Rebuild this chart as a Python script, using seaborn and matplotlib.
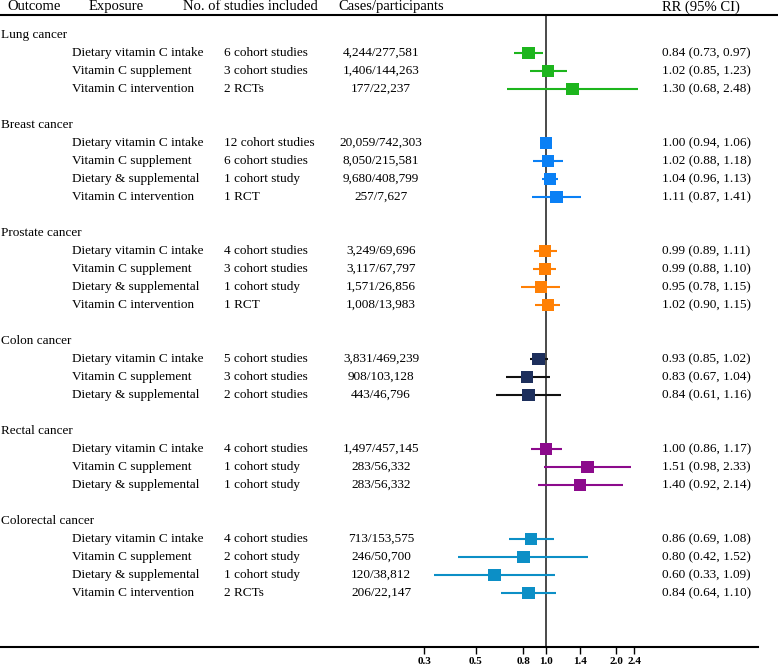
import numpy as np
import pandas as pd
import matplotlib
matplotlib.use("Agg")
import matplotlib.pyplot as plt
import matplotlib.transforms as mtransforms
from matplotlib.ticker import NullLocator
import seaborn as sns

# data
outcomes = ["Lung cancer", "Breast cancer", "Prostate cancer",
            "Colon cancer", "Rectal cancer", "Colorectal cancer"]

outcome = (["Lung cancer"] * 3 + ["Breast cancer"] * 4 + ["Prostate cancer"] * 4
           + ["Colon cancer"] * 3 + ["Rectal cancer"] * 3 + ["Colorectal cancer"] * 4)

exposure = ["Dietary vitamin C intake", "Vitamin C supplement", "Vitamin C intervention",
            "Dietary vitamin C intake", "Vitamin C supplement", "Dietary & supplemental", "Vitamin C intervention",
            "Dietary vitamin C intake", "Vitamin C supplement", "Dietary & supplemental", "Vitamin C intervention",
            "Dietary vitamin C intake", "Vitamin C supplement", "Dietary & supplemental",
            "Dietary vitamin C intake", "Vitamin C supplement", "Dietary & supplemental",
            "Dietary vitamin C intake", "Vitamin C supplement", "Dietary & supplemental", "Vitamin C intervention"]

studies = ["6 cohort studies", "3 cohort studies", "2 RCTs",
           "12 cohort studies", "6 cohort studies", "1 cohort study", "1 RCT",
           "4 cohort studies", "3 cohort studies", "1 cohort study", "1 RCT",
           "5 cohort studies", "3 cohort studies", "2 cohort studies",
           "4 cohort studies", "1 cohort study", "1 cohort study",
           "4 cohort studies", "2 cohort study", "1 cohort study", "2 RCTs"]

cases = ["4,244/277,581", "1,406/144,263", "177/22,237",
         "20,059/742,303", "8,050/215,581", "9,680/408,799", "257/7,627",
         "3,249/69,696", "3,117/67,797", "1,571/26,856", "1,008/13,983",
         "3,831/469,239", "908/103,128", "443/46,796",
         "1,497/457,145", "283/56,332", "283/56,332",
         "713/153,575", "246/50,700", "120/38,812", "206/22,147"]

rr = [0.84, 1.02, 1.30,
      1.00, 1.02, 1.04, 1.11,
      0.99, 0.99, 0.95, 1.02,
      0.93, 0.83, 0.84,
      1.00, 1.51, 1.40,
      0.86, 0.80, 0.60, 0.84]
lo = [0.73, 0.85, 0.68,
      0.94, 0.88, 0.96, 0.87,
      0.89, 0.88, 0.78, 0.90,
      0.85, 0.67, 0.61,
      0.86, 0.98, 0.92,
      0.69, 0.42, 0.33, 0.64]
hi = [0.97, 1.23, 2.48,
      1.06, 1.18, 1.13, 1.41,
      1.11, 1.10, 1.15, 1.15,
      1.02, 1.04, 1.16,
      1.17, 2.33, 2.14,
      1.08, 1.52, 1.09, 1.10]

xticks = [0.3, 0.5, 0.8, 1.0, 1.4, 2.0, 2.4]
xticklabels = ["0.3", "0.5", "0.8", "1.0", "1.4", "2.0", "2.4"]

marker_colors = {"Lung cancer": "#1db51d", "Breast cancer": "#0a80f5",
                 "Prostate cancer": "#ff8005", "Colon cancer": "#1d2f5c",
                 "Rectal cancer": "#8c0a8c", "Colorectal cancer": "#0c8fc6"}
line_colors = dict(marker_colors)
line_colors["Colon cancer"] = "#111111"

sns.set_theme(style="white")
plt.rcParams['font.family'] = ['Liberation Serif', 'DejaVu Serif']

W, H = 778, 668
fig = plt.figure(figsize=(W / 100, H / 100), dpi=100)
# axes from the header rule (y=15px) to the bottom rule (y=647px), full width
ax = fig.add_axes([0, (H - 647) / H, 1, (647 - 15) / H])

# row layout: group header, its rows, then a blank row
y = []
head_y = {}
r = -1
for o in outcome:
    if o not in head_y:
        r += 2 if head_y else 1
        head_y[o] = r
    r += 1
    y.append(r)

df = pd.DataFrame({"outcome": outcome, "rr": rr, "lo": lo, "hi": hi, "y": y})

# log axis: 1.0 at 546px, 101px per unit of ln
ax.set_xscale("log")
x0 = np.exp(-546 / 101)
x1 = np.exp((W - 546) / 101)

ax.hlines(df["y"], df["lo"], df["hi"], colors=[line_colors[o] for o in outcome], lw=1.5, zorder=2)
ax.axvline(1.0, color="#2b2b2b", lw=1.2, zorder=1)
sns.scatterplot(data=df, x="rr", y="y", hue="outcome", palette=marker_colors,
                marker="s", s=80, linewidth=0, legend=False, ax=ax, zorder=3)

ax.set_xlim(x0, x1)
ax.set_ylim(34, -1.111)
ax.set_xlabel("")
ax.set_ylabel("")
ax.set_yticks([])
ax.set_xticks(xticks)
ax.set_xticklabels(xticklabels, fontweight="bold", fontsize=8)
ax.xaxis.set_minor_locator(NullLocator())
ax.tick_params(axis="x", bottom=True, direction="out", length=5, width=1, pad=2, colors="black")

for side in ["left", "right"]:
    ax.spines[side].set_visible(False)
for side in ["top", "bottom"]:
    ax.spines[side].set_color("black")
    ax.spines[side].set_linewidth(1.5)
ax.spines["bottom"].set_bounds(x0, np.exp((758 - 546) / 101))

trans = mtransforms.blended_transform_factory(fig.transFigure, ax.transData)
fs = 9.5

def put(px, row, s, ha="left", size=fs):
    ax.text(px / W, row, s, transform=trans, ha=ha, va="center", fontsize=size, color="black")

# column headers
hy = -1.56
put(7, hy, "Outcome", size=10.5)
put(89, hy, "Exposure", size=10.5)
put(183, hy, "No. of studies included", size=10.5)
put(338, hy, "Cases/participants", size=10.5)
put(662, hy, "RR (95% CI)", size=10.5)

for o in outcomes:
    put(1, head_y[o], o)

for i in range(len(outcome)):
    put(72, y[i], exposure[i])
    put(224, y[i], studies[i])
    put(381, y[i], cases[i], ha="center")
    put(662, y[i], f"{rr[i]:.2f} ({lo[i]:.2f}, {hi[i]:.2f})")

fig.savefig("out.png", dpi=100)
